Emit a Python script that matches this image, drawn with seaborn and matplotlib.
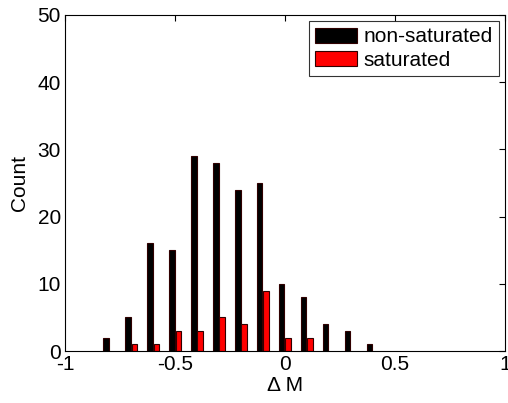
import pandas as pd
import matplotlib
matplotlib.use("Agg")
import matplotlib.pyplot as plt
import seaborn as sns

# bin centres and counts
bins = [-0.8, -0.7, -0.6, -0.5, -0.4, -0.3, -0.2, -0.1, 0.0, 0.1, 0.2, 0.3, 0.4]
non_saturated = [2, 5, 16, 15, 29, 28, 24, 25, 10, 8, 4, 3, 1]
saturated = [0, 1, 1, 3, 3, 5, 4, 9, 2, 2, 0, 0, 0]
groups = ["non-saturated", "saturated"]

df = pd.DataFrame({
    "dM": bins * 2,
    "count": non_saturated + saturated,
    "group": [groups[0]] * len(bins) + [groups[1]] * len(bins),
})
df = df[df["count"] > 0]

sns.set_style("white")
plt.rcParams["font.family"] = ["Liberation Sans", "DejaVu Sans"]
plt.rcParams["text.color"] = "black"
plt.rcParams["axes.labelcolor"] = "black"
fs = 15

fig = plt.figure(figsize=(5.08, 4.03), dpi=100)
ax = fig.add_axes([0.128, 0.129, 0.866, 0.834])

sns.barplot(data=df, x="dM", y="count", hue="group", hue_order=groups,
            native_scale=True, dodge=True, width=0.6, gap=0.15,
            palette=["black", "red"], edgecolor="#300000", linewidth=0.8,
            saturation=1, errorbar=None, ax=ax)

ax.set_xlim(-1, 1)
ax.set_ylim(0, 50)
ax.set_xticks([-1, -0.5, 0, 0.5, 1])
ax.set_xticklabels(["-1", "-0.5", "0", "0.5", "1"])
ax.set_yticks([0, 10, 20, 30, 40, 50])
ax.tick_params(direction="in", length=4, width=0.8, top=True, right=True,
               labelsize=fs, pad=3, colors="black")
for s in ax.spines.values():
    s.set_visible(True)
    s.set_color("black")
    s.set_linewidth(0.8)

ax.set_xlabel("\u0394 M", fontsize=fs, labelpad=1, color="black")
ax.set_ylabel("Count", fontsize=fs, labelpad=6, color="black")

leg = ax.legend(loc="upper right", fontsize=fs, frameon=True, fancybox=False,
                edgecolor="black", handlelength=2.0, handleheight=0.75,
                handletextpad=0.3, borderpad=0.3, labelspacing=0.2,
                borderaxespad=0.3)
leg.get_frame().set_linewidth(0.8)
for t in leg.get_texts():
    t.set_color("black")

fig.savefig("out.png", dpi=100)
